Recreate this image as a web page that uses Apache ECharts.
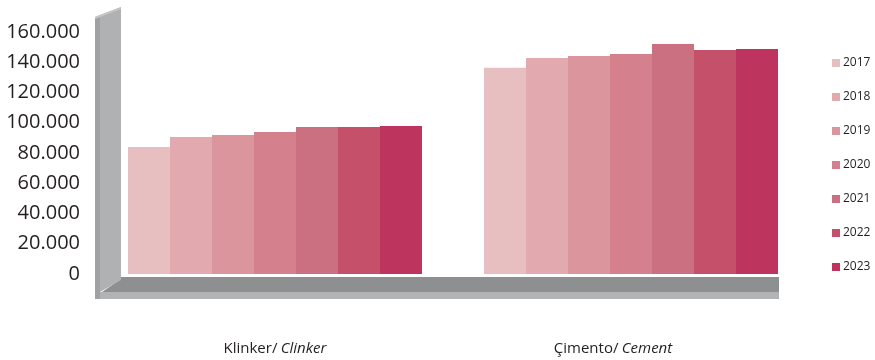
<!DOCTYPE html>
<html>
<head>
<meta charset="utf-8">
<script src="https://cdn.jsdelivr.net/npm/echarts@6/dist/echarts.min.js"></script>
<style>
  html, body { margin: 0; padding: 0; background: #ffffff; }
  #chart { width: 875px; height: 360px; }
</style>
</head>
<body>
<div id="chart"></div>
<script>
// Production by year (tonnes)
const categoriesTr = ['Klinker', 'Çimento'];
const categoriesEn = ['Clinker', 'Cement'];
const years = ['2017', '2018', '2019', '2020', '2021', '2022', '2023'];
const klinker = [84000, 90600, 91900, 93900, 97200, 97200, 97900];
const cimento = [136400, 142800, 144100, 145500, 152100, 148100, 148800];
const yearColors = ['#E8BFC1', '#E2A9AE', '#DA969C', '#D5818D', '#CB7081', '#C4506A', '#BD355E'];

const GRID = { left: 97, right: 66, top: 32, bottom: 86 };
const BAR_W = 42;
const TEXT = '#231f20';
const FONT = '"Open Sans", "Noto Sans", sans-serif';

function thousands(v) {
  return String(v).replace(/\B(?=(\d{3})+(?!\d))/g, '.');
}

const chart = echarts.init(document.getElementById('chart'), null, { renderer: 'canvas' });

chart.setOption({
  animation: false,
  backgroundColor: '#ffffff',
  grid: GRID,
  legend: {
    orient: 'vertical',
    left: 832,
    top: 56,
    padding: 0,
    itemWidth: 8,
    itemHeight: 8,
    itemGap: 20,
    icon: 'rect',
    textStyle: { fontFamily: FONT, fontSize: 12, color: TEXT, lineHeight: 14, padding: [0, 0, 0, -2] },
    data: years
  },
  xAxis: {
    type: 'category',
    data: categoriesTr,
    axisLine: { show: false },
    axisTick: { show: false },
    axisLabel: {
      margin: 67,
      formatter: function (v, i) {
        const en = categoriesEn[categoriesTr.indexOf(v)];
        return i === 1
          ? '{r|' + v + '/} {i|' + en + '}{p|}'
          : '{r|' + v + '/} {i|' + en + '}';
      },
      rich: {
        r: { fontFamily: FONT, fontSize: 15, color: TEXT },
        i: { fontFamily: FONT, fontSize: 15, color: TEXT, fontStyle: 'italic' },
        p: { width: 36 }
      }
    }
  },
  yAxis: {
    type: 'value',
    min: 0,
    max: 160000,
    interval: 20000,
    axisLine: { show: false },
    axisTick: { show: false },
    splitLine: { show: false },
    axisLabel: {
      margin: 17,
      fontFamily: FONT,
      fontSize: 20,
      color: TEXT,
      formatter: thousands
    }
  },
  series: years.map(function (y, i) {
    return {
      name: y,
      type: 'bar',
      barWidth: BAR_W,
      barGap: '0%',
      itemStyle: { color: yearColors[i] },
      data: [klinker[i], cimento[i]]
    };
  })
});

// Grey wall and floor drawn around the plotting area
const y0 = chart.convertToPixel({ yAxisIndex: 0 }, 0);
const xEnd = chart.convertToPixel({ xAxisIndex: 0 }, categoriesTr[1]) + 3.5 * BAR_W + 1;
const wl = GRID.left - 2;
const wm = GRID.left + 3;
const wr = GRID.left + 24;
const wallTop = GRID.top - 25;

chart.setOption({
  graphic: [
    { type: 'rect', shape: { x: wl, y: y0 + 18, width: xEnd - wl, height: 7 },
      style: { fill: '#b2b3b5' }, z: 1 },
    { type: 'polygon', shape: { points: [[wm + 2, y0 + 18], [wr, y0 + 5], [wr, y0 + 3], [xEnd, y0 + 3], [xEnd, y0 + 18]] },
      style: { fill: '#8e8f91' }, z: 1 },
    { type: 'polygon', shape: { points: [[wm, wallTop + 8], [wr, wallTop], [wr, y0 + 6], [wm, y0 + 18]] },
      style: { fill: '#b0b1b3' }, z: 2 },
    { type: 'polygon', shape: { points: [[wl, wallTop + 10], [wm, wallTop + 8], [wm, y0 + 25], [wl, y0 + 25]] },
      style: { fill: '#9fa1a3' }, z: 2 },
    { type: 'polygon', shape: { points: [[wl, wallTop + 10], [wr, wallTop], [wr, wallTop + 2], [wl, wallTop + 12]] },
      style: { fill: '#c4c5c7' }, z: 3 }
  ]
});
</script>
</body>
</html>
